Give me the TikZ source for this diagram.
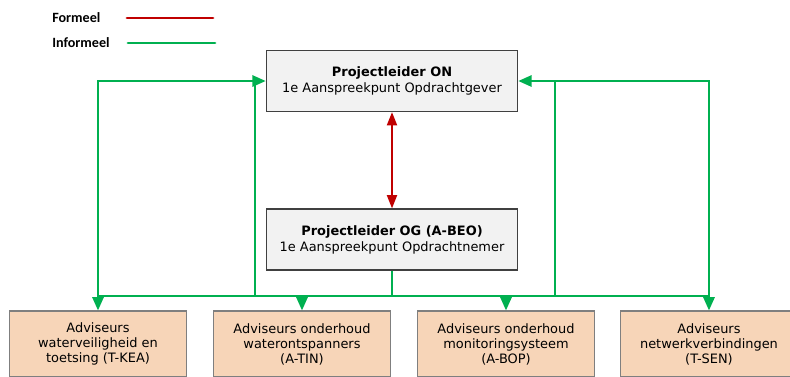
\documentclass[tikz,border=0pt]{standalone}
\usepackage{fontspec}
\setmainfont{DejaVu Sans}
\newfontfamily\legfont{Carlito}
\usetikzlibrary{arrows.meta}
\definecolor{formred}{HTML}{C00000}
\definecolor{informgreen}{HTML}{00B050}
\definecolor{topfill}{HTML}{F2F2F2}
\definecolor{topdraw}{HTML}{404040}
\definecolor{advfill}{HTML}{F7D5B8}
\definecolor{advdraw}{HTML}{7F7F7F}
\tikzset{
  pbox/.style={draw=topdraw, fill=topfill, line width=0.9pt, minimum width=188.6pt, minimum height=45.75pt,
    align=center, font=\fontsize{9.7}{12}\selectfont, inner sep=0pt},
  abox/.style={draw=advdraw, fill=advfill, line width=0.9pt, minimum width=132.75pt, minimum height=49.5pt,
    align=center, font=\fontsize{9.7}{11.25}\selectfont, inner sep=0pt},
  gline/.style={draw=informgreen, line width=1.5pt},
  garrow/.style={gline, -{Triangle[length=10pt,width=8.5pt]}},
  rarrow/.style={draw=formred, line width=1.5pt, {Triangle[length=10pt,width=7.5pt]}-{Triangle[length=10pt,width=7.5pt]}},
  legtext/.style={font=\legfont\bfseries\fontsize{10.6}{12}\selectfont, anchor=west, inner sep=0pt},
}
\begin{document}
\begin{tikzpicture}[x=0.75pt, y=-0.75pt]
\useasboundingbox (0,0) rectangle (790,376);
\clip (0,0) rectangle (790,376);

% legend
\node[legtext] (lf) at (52,18) {Formeel};
\node[legtext] (li) at (52,43) {Informeel};
\coordinate (lfa) at (127,18); \coordinate (lfb) at (213,18);
\coordinate (lia) at (128,43); \coordinate (lib) at (215,43);
\draw[formred, line width=2.2pt, line cap=round] (lfa) -- (lfb);
\draw[informgreen, line width=2.2pt, line cap=round] (lia) -- (lib);

% main boxes
\node[pbox] (on) at (392,81) {\textbf{Projectleider ON}\\1e Aanspreekpunt Opdrachtgever};
\node[pbox] (og) at (392,239.5) {\textbf{Projectleider OG (A-BEO)}\\1e Aanspreekpunt Opdrachtnemer};

% advisers
\node[abox] (b1) at (98,344) {Adviseurs\\waterveiligheid en\\toetsing (T-KEA)};
\node[abox] (b2) at (302,344) {Adviseurs onderhoud\\waterontspanners\\(A-TIN)};
\node[abox] (b3) at (506,344) {Adviseurs onderhoud\\monitoringsysteem\\(A-BOP)};
\node[abox] (b4) at (709,344) {Adviseurs\\netwerkverbindingen\\(T-SEN)};

% formal
\draw[rarrow] (on.south) -- (og.north);

% informal network
\coordinate (bus) at (0,296);
\coordinate (lv) at (255,0);
\coordinate (rv) at (555,0);
\draw[gline] (og.south) -- (og.south |- bus);
\draw[gline] (b1.north |- bus) -- (b4.north |- bus);
\draw[garrow] (b1.north |- bus) -- (b1.north);
\draw[garrow] (b2.north |- bus) -- (b2.north);
\draw[garrow] (b3.north |- bus) -- (b3.north);
\draw[garrow] (b4.north |- bus) -- (b4.north);
\draw[garrow] (b1.north |- bus) -- (b1.north |- on.west) -- (on.west);
\draw[garrow] (b4.north |- bus) -- (b4.north |- on.east) -- (on.east);
\draw[gline] (lv |- on.west) -- (lv |- bus);
\draw[gline] (rv |- on.east) -- (rv |- bus);
\end{tikzpicture}
\end{document}
